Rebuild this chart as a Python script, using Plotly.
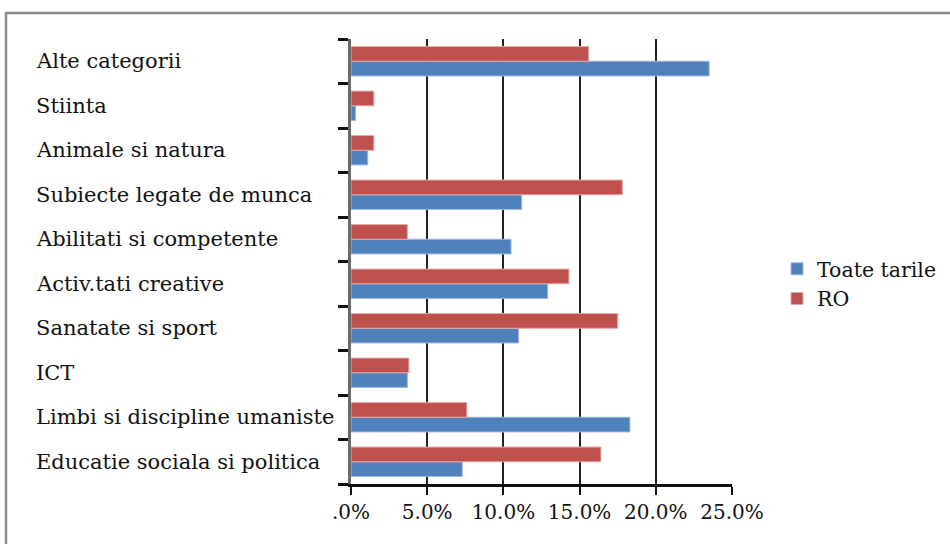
import plotly.graph_objects as go

# Categories listed bottom-to-top as they appear on the axis
categories = [
    "Educatie sociala si politica",
    "Limbi si discipline umaniste",
    "ICT",
    "Sanatate si sport",
    "Activ.tati creative",
    "Abilitati si competente",
    "Subiecte legate de munca",
    "Animale si natura",
    "Stiinta",
    "Alte categorii",
]

# Shares in percent
toate_tarile = [7.3, 18.3, 3.7, 11.0, 12.9, 10.5, 11.2, 1.1, 0.3, 23.5]
ro = [16.4, 7.6, 3.8, 17.5, 14.3, 3.7, 17.8, 1.5, 1.5, 15.6]

tick_vals = [0, 5, 10, 15, 20, 25]
tick_text = [".0%", "5.0%", "10.0%", "15.0%", "20.0%", "25.0%"]

FONT = "DejaVu Serif"
BLUE = "#4F81BD"
RED = "#C0504D"

W, H = 950, 544
ML, MR, MT, MB = 351, 218, 39, 60
pw = W - ML - MR
ph = H - MT - MB


def px_x(px):
    return (px - ML) / pw


def px_y(py):
    return (H - MB - py) / ph


fig = go.Figure()
fig.add_trace(go.Bar(
    y=categories, x=toate_tarile, orientation="h", name="Toate tarile",
    marker=dict(color=BLUE, line=dict(color="#9db7dc", width=1)),
))
fig.add_trace(go.Bar(
    y=categories, x=ro, orientation="h", name="RO",
    marker=dict(color=RED, line=dict(color="#e3a9a8", width=1)),
))

# Left-aligned category labels
annotations = [
    dict(
        x=px_x(34), y=cat, xref="paper", yref="y", text=cat, showarrow=False,
        xanchor="left", yanchor="middle",
        font=dict(family=FONT, size=21, color="#111"),
    )
    for cat in categories
]

fig.update_layout(
    width=W, height=H,
    margin=dict(l=ML, r=MR, t=MT, b=MB, pad=0, autoexpand=False),
    paper_bgcolor="white", plot_bgcolor="white",
    barmode="group", bargap=0.34, bargroupgap=0,
    font=dict(family=FONT, size=21, color="#111"),
    annotations=annotations,
    legend=dict(
        x=px_x(777), y=px_y(284), xanchor="left", yanchor="middle",
        font=dict(family=FONT, size=20.5, color="#111"),
        bgcolor="rgba(0,0,0,0)", tracegroupgap=0, itemwidth=30,
    ),
    shapes=[
        dict(
            type="rect", xref="paper", yref="paper",
            x0=px_x(6), x1=px_x(960), y0=px_y(560), y1=px_y(13),
            line=dict(color="#8a8a8a", width=2.5), layer="below",
        )
    ],
    xaxis=dict(
        range=[0, 25], tickvals=tick_vals, ticktext=tick_text, tickangle=0,
        showgrid=True, gridcolor="#222", gridwidth=2,
        zeroline=False, automargin=False,
        showline=True, linecolor="#111", linewidth=3,
        ticks="outside", ticklen=8, tickwidth=2, tickcolor="#111",
        tickfont=dict(family=FONT, size=20, color="#111"),
    ),
    yaxis=dict(
        type="category", categoryorder="array", categoryarray=categories,
        showticklabels=False, showgrid=False, zeroline=False, automargin=False,
        showline=True, linecolor="#6a6a6a", linewidth=2.5,
        ticks="outside", tickson="boundaries", ticklen=10, tickwidth=2.5,
        tickcolor="#111",
    ),
)

fig.write_html("out.html")
